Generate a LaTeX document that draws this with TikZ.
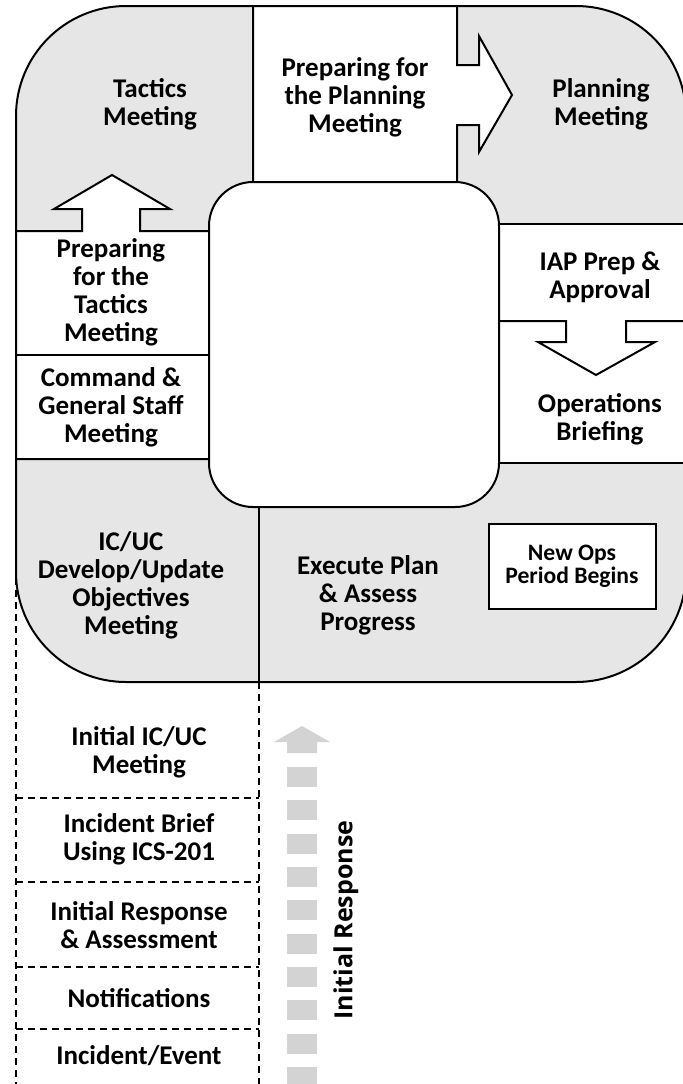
\documentclass[tikz,border=0pt]{standalone}
\usepackage{fontspec}
\setmainfont{Carlito}
\newfontfamily\sidefont{Open Sans}
\usetikzlibrary{positioning}
\definecolor{panel}{RGB}{230,230,230}
\definecolor{stepgray}{RGB}{211,211,211}

\begin{document}
\begin{tikzpicture}[x=0.5pt,y=-0.5pt,
  every node/.style={font=\fontsize{13.5}{14}\selectfont\bfseries,align=center,inner sep=0pt},
  edge/.style={draw=black,line width=1pt,line join=miter},
  dashline/.style={draw=black,line width=0.8pt,dash pattern=on 3.5pt off 2.5pt},
  small/.style={font=\fontsize{11.8}{11.5}\selectfont\bfseries}]
\useasboundingbox (0,0) rectangle (683,1084);
% outer ring
\draw[edge,fill=panel,rounded corners=55pt] (16,6) rectangle (686,682);
% preparing for planning, arrow to the right
\draw[edge,fill=white] (253,6) -- (457,6) -- (457,65) -- (479,65) -- (479,36) -- (512,95)
  -- (479,152) -- (479,125) -- (457,125) -- (457,182) -- (253,182) -- cycle;
% preparing for tactics, arrow up
\draw[edge,fill=white] (16,231) -- (82,231) -- (82,209) -- (54,209) -- (112,175) -- (170,209)
  -- (140,209) -- (140,231) -- (209,231) -- (209,459) -- (16,459) -- cycle;
\draw[edge] (16,355) -- (209,355);
% IAP prep, arrow down
\draw[edge,fill=white] (499,224) rectangle (686,463);
\draw[edge] (499,321) -- (566,321) -- (566,342) -- (538,342) -- (596,375) -- (655,342)
  -- (626,342) -- (626,321) -- (686,321);
% centre
\draw[edge,fill=white,rounded corners=22pt] (209,182) rectangle (499,507);
\draw[edge] (259,507) -- (259,682);

\node (tactics) at (150,104) {Tactics\\Meeting};
\node (prepplan) at (355,97) {Preparing for\\the Planning\\Meeting};
\node (planning) at (601,104) {Planning\\Meeting};
\node (preptac) at (111,292) {Preparing\\for the\\Tactics\\Meeting};
\node (cgs) at (111,407) {Command \&\\General Staff\\Meeting};
\node (iap) at (600,277) {IAP Prep \&\\Approval};
\node (opsbrief) at (600,419) {Operations\\Briefing};
\node (objectives) at (131,585) {IC/UC\\Develop/Update\\Objectives\\Meeting};
\node (execute) at (368,595) {Execute Plan\\\& Assess\\Progress};
\node[draw,line width=1pt,fill=white,minimum width=83.5pt,minimum height=42.5pt,small] (newops)
  at (572,566) {New Ops\\Period Begins};

% initial response column
\draw[dashline] (16,578) -- (16,1084);
\draw[dashline] (259,682) -- (259,1084);
\foreach \y in {798,882,967,1029}
  \draw[dashline] (16,\y) -- (259,\y);
\node (initmeet) at (139,752) {Initial IC/UC\\Meeting};
\node (brief) at (139,839) {Incident Brief\\Using ICS-201};
\node (initresp) at (139,925) {Initial Response\\\& Assessment};
\node (notify) at (139,998) {Notifications};
\node (incident) at (139,1056) {Incident/Event};

% dashed grey arrow
\fill[stepgray] (287,753) -- (287,742) -- (274,742) -- (302,726) -- (330,742) -- (317,742)
  -- (317,753) -- cycle;
\foreach \i in {0,...,9}
  \fill[stepgray] (287,767+33.33*\i) rectangle (317,787+33.33*\i);
\node[rotate=90,font=\sidefont\fontsize{12.5}{15}\selectfont\bfseries] (resplabel) at (346,920) {Initial Response};
\end{tikzpicture}
\end{document}
